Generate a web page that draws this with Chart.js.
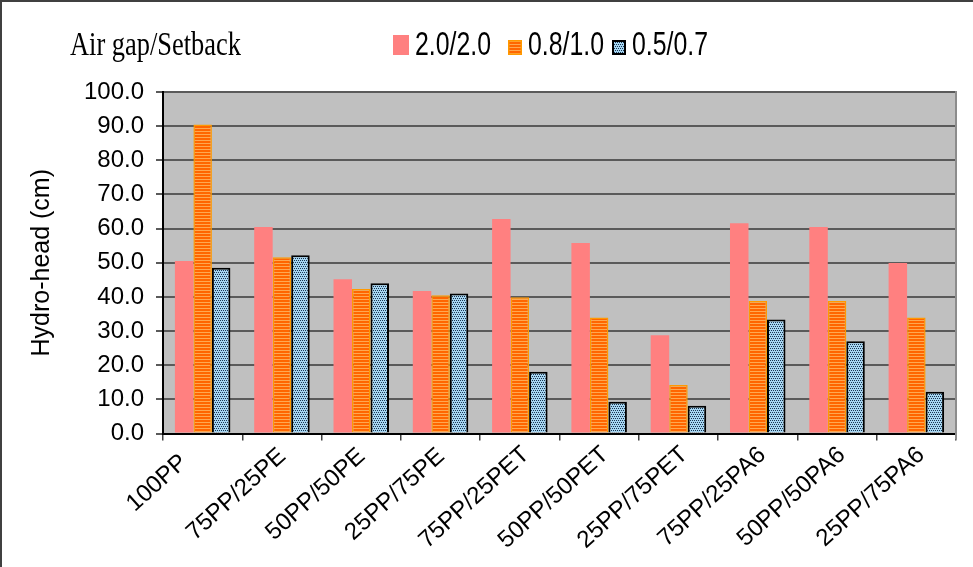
<!DOCTYPE html>
<html><head><meta charset="utf-8">
<script src="https://cdn.jsdelivr.net/npm/chart.js@4.4.0/dist/chart.umd.min.js"></script>
<style>html,body{margin:0;padding:0;background:#fff}canvas{display:block}</style>
</head><body>
<canvas id="c" width="973" height="567"></canvas>
<script>
// ---- data ----
const categories = ['100PP','75PP/25PE','50PP/50PE','25PP/75PE','75PP/25PET','50PP/50PET','25PP/75PET','75PP/25PA6','50PP/50PA6','25PP/75PA6'];
const seriesNames = ['2.0/2.0','0.8/1.0','0.5/0.7'];
const gap20_20 = [50.5, 60.5, 45.2, 41.7, 62.8, 55.8, 28.8, 61.6, 60.5, 49.9];
const gap08_10 = [90.5, 51.6, 42.3, 40.5, 39.9, 34.0, 14.2, 38.8, 38.8, 34.0];
const gap05_07 = [48.5, 52.2, 44.0, 41.0, 18.1, 9.3, 8.1, 33.4, 27.0, 12.2];
const yTickValues = [0,10,20,30,40,50,60,70,80,90,100];
const yTitle = 'Hydro-head (cm)';
const legendHeading = 'Air gap/Setback';

const canvas = document.getElementById('c');
const mctx = canvas.getContext('2d');

function makeStripe(){
  const c = document.createElement('canvas'); c.width = 4; c.height = 3;
  const g = c.getContext('2d');
  g.fillStyle = '#FF6600'; g.fillRect(0,0,4,3);
  g.fillStyle = '#FFA850'; g.fillRect(0,2,4,1);
  return mctx.createPattern(c,'repeat');
}
function makeDots(){
  const c = document.createElement('canvas'); c.width = 4; c.height = 4;
  const g = c.getContext('2d');
  g.fillStyle = '#A6D6F2'; g.fillRect(0,0,4,4);
  g.fillStyle = '#1B3652';
  [[0,0],[2,0],[1,2],[3,2]].forEach(p=>g.fillRect(p[0],p[1],1,1));
  return mctx.createPattern(c,'repeat');
}

// centre rotated category labels (Excel-like) relative to the longest label
const labelAlignPlugin = {
  id: 'labelAlign',
  beforeDraw(chart){
    const xs = chart.scales.x;
    const items = xs.getLabelItems();
    if (!items.length || items[0]._shifted) return;
    const ctx = chart.ctx;
    ctx.save();
    ctx.font = items[0].font.string;
    const widths = items.map(it => ctx.measureText(String(it.label)).width);
    ctx.restore();
    const w0 = Math.max(...widths);
    items.forEach((it, i) => {
      const th = -it.options.rotation;
      const d = widths[i] - w0;
      it.options.translation[0] += d / 2 * Math.cos(th) + 6;
      it.options.translation[1] += -d * 0.12 - 2;
      it._shifted = true;
    });
  }
};

const framePlugin = {
  id: 'frame',
  beforeDraw(chart){
    const {ctx, chartArea: a} = chart;
    ctx.save();
    ctx.fillStyle = '#fff'; ctx.fillRect(0,0,chart.width,chart.height);
    ctx.fillStyle = '#C0C0C0'; ctx.fillRect(a.left, a.top, a.right-a.left, a.bottom-a.top);
    ctx.fillStyle = '#404040';
    ctx.fillRect(0,0,chart.width,2);
    ctx.fillRect(0,0,2,chart.height);
    ctx.restore();
  },
  afterDraw(chart){
    const {ctx, chartArea: a} = chart;
    ctx.save();
    ctx.strokeStyle = '#8C8C8C'; ctx.lineWidth = 2;
    ctx.beginPath(); ctx.moveTo(a.right, a.top-1); ctx.lineTo(a.right, a.bottom+6); ctx.stroke();
    ctx.fillStyle = '#000';
    ctx.textBaseline = 'alphabetic';
    ctx.font = '33px "Liberation Serif", "Times New Roman", serif';
    ctx.save(); ctx.translate(70, 55); ctx.scale(171 / ctx.measureText(legendHeading).width, 1); ctx.fillText(legendHeading, 0, 0); ctx.restore();
    const boxX = [393, 508, 612];
    ctx.font = '33px "Liberation Sans", Arial, sans-serif';
    chart.data.datasets.forEach((ds, i) => {
      const x = boxX[i];
      const big = i === 0;
      const bw = big ? 16 : 14, bh = big ? 20 : 15, by = big ? 35 : 40;
      ctx.fillStyle = ds.backgroundColor;
      ctx.fillRect(x, by, bw, bh);
      if (ds.borderWidth) {
        ctx.strokeStyle = ds.borderColor; ctx.lineWidth = ds.borderWidth;
        ctx.strokeRect(x + ds.borderWidth/2, by + ds.borderWidth/2, bw - ds.borderWidth, bh - ds.borderWidth);
      }
      ctx.fillStyle = '#000';
      const tw = ctx.measureText(ds.label).width;
      ctx.save(); ctx.translate(x + bw + 6, 55); ctx.scale(76 / tw, 1); ctx.fillText(ds.label, 0, 0); ctx.restore();
    });
    ctx.restore();
  }
};

new Chart(canvas, {
  type: 'bar',
  data: {
    labels: categories,
    datasets: [
      { label: seriesNames[0], data: gap20_20, backgroundColor: '#FF8080', borderWidth: 0 },
      { label: seriesNames[1], data: gap08_10, backgroundColor: makeStripe(), borderColor: '#FF9900', borderWidth: 1.5 },
      { label: seriesNames[2], data: gap05_07, backgroundColor: makeDots(), borderColor: '#000000', borderWidth: 2 }
    ]
  },
  options: {
    responsive: false,
    animation: false,
    devicePixelRatio: 1,
    layout: { padding: { top: 92, left: 0, right: 17, bottom: 0 } },
    datasets: { bar: { categoryPercentage: 0.7, barPercentage: 1.0 } },
    plugins: { legend: { display: false }, tooltip: { enabled: false } },
    scales: {
      x: {
        grid: { offset: true, drawOnChartArea: false, drawTicks: true, tickLength: 7, color: '#404040', lineWidth: 1.5 },
        border: { color: '#000', width: 2 },
        ticks: { color: '#000', font: { family: '"Liberation Sans", Arial, sans-serif', size: 24 }, minRotation: 42, maxRotation: 42, autoSkip: false, padding: 2 },
        afterFit(s){ s.height = 567 - 433.5; }
      },
      y: {
        min: 0, max: 100,
        afterBuildTicks(s){ s.ticks = yTickValues.map(v => ({ value: v })); },
        grid: { color: '#5A5A5A', lineWidth: 2, tickLength: 7, drawTicks: true },
        border: { color: '#000', width: 2 },
        ticks: { color: '#000', padding: 12, font: { family: '"Liberation Sans", Arial, sans-serif', size: 24 }, callback: v => Number(v).toFixed(1) },
        title: { display: true, text: yTitle, color: '#000', font: { family: '"Liberation Sans", Arial, sans-serif', size: 25 }, padding: { top: 27, bottom: 0 } },
        afterFit(s){ s.width = 163; }
      }
    }
  },
  plugins: [framePlugin, labelAlignPlugin]
});
</script>
</body></html>
